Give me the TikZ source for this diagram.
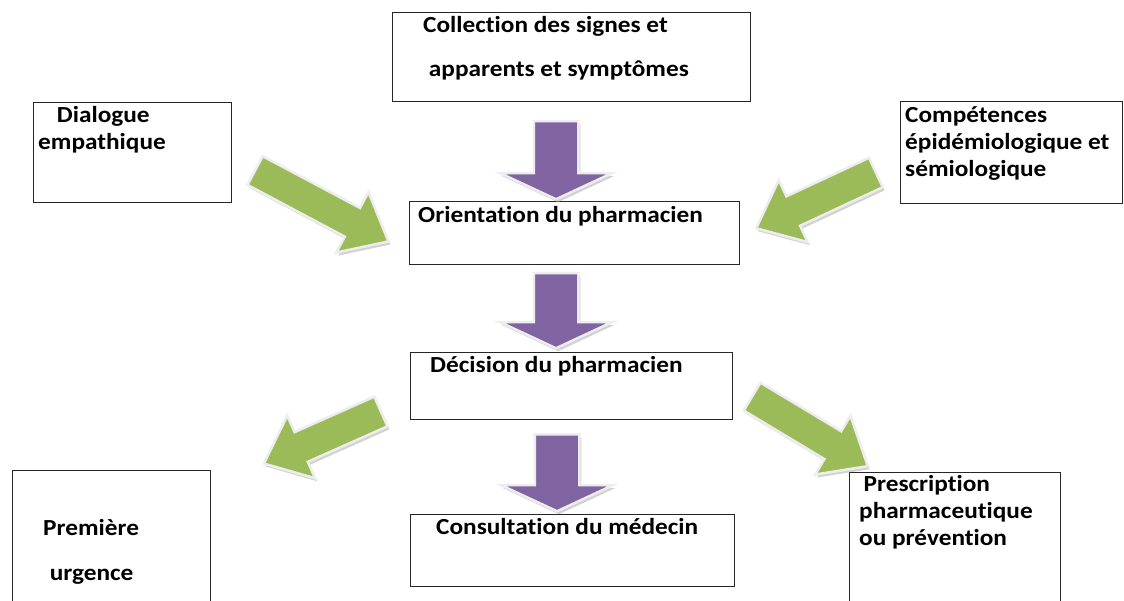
\documentclass[tikz,border=0pt]{standalone}
\usepackage{fontspec}
\setmainfont{Carlito}[Ligatures=NoCommon]
\usetikzlibrary{shapes.arrows,shadows}

\definecolor{arrowgreen}{RGB}{155,187,89}
\definecolor{arrowpurple}{RGB}{128,100,162}

\tikzset{
  box/.style={draw=black!85, line width=1.2pt, fill=white, anchor=north west, inner sep=0pt},
  txt/.style={anchor=base west, inner sep=0pt, align=left, xscale=1.1,
    font=\fontsize{23}{27}\selectfont\bfseries},
  blockarrow/.style={single arrow, anchor=tail, inner xsep=0pt, draw=black!7, line width=2.5pt,
    drop shadow={shadow xshift=2pt, shadow yshift=-3pt, fill=black!35}},
  greenarrow/.style={blockarrow, fill=arrowgreen, inner ysep=15pt,
    single arrow head extend=18pt, single arrow tip angle=80},
  purplearrow/.style={blockarrow, fill=arrowpurple, inner ysep=21pt,
    single arrow head extend=34pt, single arrow tip angle=130},
}

\begin{document}
\begin{tikzpicture}[x=1pt,y=-1pt]
  \useasboundingbox (0,0) rectangle (1124,601);
  \clip (0,0) rectangle (1124,601);

  % boxes
  \node (collect)  [box, minimum width=358pt, minimum height=89pt]  at (392,12)  {};
  \node (dialogue) [box, minimum width=198pt, minimum height=100pt] at (33,102)  {};
  \node (compet)   [box, minimum width=222pt, minimum height=102pt] at (900,101) {};
  \node (orient)   [box, minimum width=330pt, minimum height=63pt]  at (409,201) {};
  \node (decision) [box, minimum width=322pt, minimum height=67pt]  at (410,352) {};
  \node (consult)  [box, minimum width=324pt, minimum height=72pt]  at (410,514) {};
  \node (premiere) [box, minimum width=198pt, minimum height=150pt] at (12,470)  {};
  \node (prescr)   [box, minimum width=211pt, minimum height=150pt] at (849,472) {};

  % texts (base = last line)
  \node (collectT)  [txt] at (423,77)  {Collection des signes et\\[17pt]\ apparents et symptômes};
  \node (dialogueT) [txt] at (38,150)  {\hspace{17pt}Dialogue\\empathique};
  \node (competT)   [txt] at (905,177) {Compétences\\épidémiologique et\\sémiologique};
  \node (orientT)   [txt] at (418,223) {Orientation du pharmacien};
  \node (decisionT) [txt] at (430,373) {Décision du pharmacien};
  \node (consultT)  [txt] at (436,534) {Consultation du médecin};
  \node (premiereT) [txt] at (43,580)  {Première\\[18pt]\hspace{6pt}urgence};
  \node (prescrT)   [txt] at (859,545) {\hspace{4pt}Prescription\\pharmaceutique\\ou prévention};

  % block arrows
  \node (down1) [purplearrow, minimum height=78pt, rotate=-90] at (556,120) {};
  \node (down2) [purplearrow, minimum height=75pt, rotate=-90] at (556,272) {};
  \node (down3) [purplearrow, minimum height=77pt, rotate=-90] at (557,433) {};

  \node (fromDialogue) [greenarrow, minimum height=151pt, rotate=-28]  at (254,170) {};
  \node (fromCompet)   [greenarrow, minimum height=132pt, rotate=-155] at (877,172) {};
  \node (toPremiere)   [greenarrow, minimum height=128pt, rotate=-156] at (382,411) {};
  \node (toPrescr)     [greenarrow, minimum height=135pt, rotate=-31]  at (751,396) {};
\end{tikzpicture}
\end{document}
